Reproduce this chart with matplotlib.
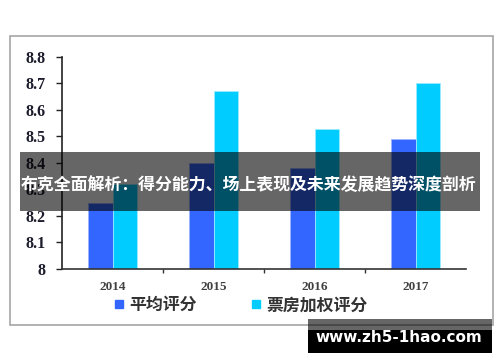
import matplotlib.pyplot as plt
from matplotlib.patches import Rectangle
from matplotlib.lines import Line2D
import numpy as np

# data
years = ['2014', '2015', '2016', '2017']
avg_score = [8.25, 8.40, 8.38, 8.49]
weighted_score = [8.32, 8.67, 8.53, 8.70]
y_ticks = [8.0, 8.1, 8.2, 8.3, 8.4, 8.5, 8.6, 8.7, 8.8]
y_labels = ['8', '8.1', '8.2', '8.3', '8.4', '8.5', '8.6', '8.7', '8.8']

cjk = ['Noto Sans CJK SC', 'DejaVu Sans']
serif = 'Liberation Serif'
c_avg = '#3366FF'
c_wt = '#00CCFF'

fig = plt.figure(figsize=(5, 3.62), dpi=100)
ax = fig.add_axes([0.124, 0.257, 0.808, 0.5856])

x = np.arange(len(years))
w = 0.245
ax.bar(x - w / 2, avg_score, width=w, color=c_avg, edgecolor='#9DB4FF', linewidth=0.6)
ax.bar(x + w / 2, weighted_score, width=w, color=c_wt, edgecolor='#9AEBFF', linewidth=0.6)

ax.set_xlim(-0.5, 3.5)
ax.set_ylim(8.0, 8.8)
ax.set_yticks(y_ticks)
ax.set_yticklabels(y_labels, fontfamily=serif, fontweight='bold', fontsize=11.5, color='#1c1c2c')
ax.tick_params(axis='y', length=4, width=1, pad=8, color='#222222')

ax.set_xticks(x)
ax.set_xticklabels(years, fontfamily=serif, fontweight='bold', fontsize=9.5, color='#404040')
ax.tick_params(axis='x', which='major', length=0, pad=9)
ax.set_xticks([0.5, 1.5, 2.5], minor=True)
ax.tick_params(axis='x', which='minor', length=3, width=1, color='#333333', direction='out')

for s in ['top', 'right']:
    ax.spines[s].set_visible(False)
ax.spines['left'].set_color('#222222')
ax.spines['bottom'].set_color('#333333')
ax.spines['left'].set_linewidth(1.2)
ax.spines['bottom'].set_linewidth(1.2)

handles = [
    Line2D([], [], marker='s', linestyle='none', markersize=6, color=c_avg),
    Line2D([], [], marker='s', linestyle='none', markersize=6, color=c_wt),
]
fig.legend(handles, ['平均评分', '票房加权评分'], loc='center', bbox_to_anchor=(0.482, 0.157),
           ncol=2, frameon=False, handlelength=0.6, handletextpad=0.3, columnspacing=3.2,
           prop={'family': cjk, 'weight': 'bold', 'size': 12.2}, labelcolor='#333333')

# outer frame
fig.patches.append(Rectangle((0.02, 0.102), 0.966, 0.799, transform=fig.transFigure,
                             fill=False, edgecolor='#A6A6A6', linewidth=1.2))

# title banner
fig.patches.append(Rectangle((0.04, 0.417), 0.92, 0.163, transform=fig.transFigure,
                             facecolor='black', alpha=0.6, edgecolor='none', zorder=5))
fig.text(0.498, 0.489, '布克全面解析：得分能力、场上表现及未来发展趋势深度剖析',
         ha='center', va='center', color='white', fontsize=12.2, fontweight='bold',
         family=cjk, zorder=6)

# watermark
fig.patches.append(Rectangle((0.616, 0.0884), 0.368, 0.0304, transform=fig.transFigure,
                             facecolor='black', alpha=0.6, edgecolor='none', zorder=5))
fig.patches.append(Rectangle((0.616, 0.0249), 0.368, 0.0635, transform=fig.transFigure,
                             facecolor='black', edgecolor='none', zorder=5))
fig.text(0.797, 0.069, 'www.zh5-1hao.com', ha='center', va='center', color='white',
         fontsize=11, fontweight='bold', family='DejaVu Sans', zorder=6)

fig.savefig('out.png', dpi=100)
